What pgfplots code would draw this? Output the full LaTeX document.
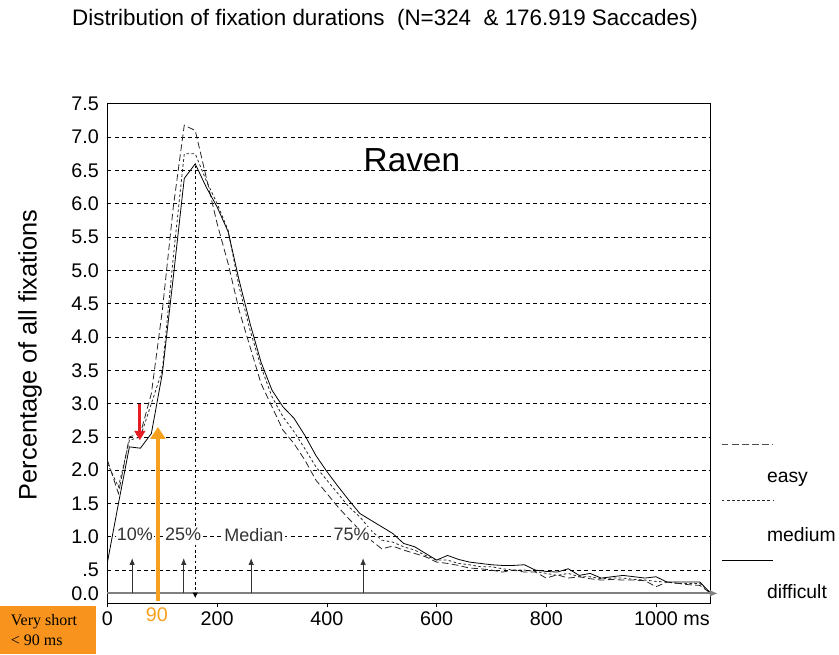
\documentclass[border=0pt]{standalone}
\usepackage{pgfplots}
\pgfplotsset{compat=1.18}
\usepackage{pgfplotstable}
\usepackage{fontspec}
\setmainfont{Liberation Sans}
\newfontfamily\seriffont{Liberation Serif}
\usetikzlibrary{arrows.meta}
\definecolor{orng}{RGB}{246,160,30}
\definecolor{boxorng}{RGB}{248,148,29}
\definecolor{basegray}{RGB}{128,128,128}
\definecolor{redarr}{RGB}{230,30,35}

\pgfplotstableread{
ms easy medium difficult
0 2.15 2.10 0.62
20 1.65 1.75 1.50
40 2.50 2.45 2.35
60 2.55 2.50 2.33
80 3.15 3.00 2.55
100 4.40 3.50 3.45
120 5.95 5.20 4.90
140 7.18 6.75 6.38
160 7.10 6.75 6.60
180 6.40 6.35 6.25
200 5.70 6.00 5.95
220 5.10 5.60 5.58
240 4.40 4.75 4.85
260 3.85 4.10 4.20
280 3.30 3.55 3.62
300 2.95 3.10 3.20
320 2.60 2.80 2.95
340 2.40 2.58 2.78
360 2.15 2.32 2.52
380 1.85 2.05 2.22
400 1.65 1.85 1.98
420 1.45 1.65 1.76
440 1.27 1.45 1.55
460 1.10 1.30 1.35
480 0.95 1.10 1.25
500 0.82 0.95 1.15
520 0.86 0.92 1.05
540 0.80 0.85 0.90
560 0.75 0.80 0.85
580 0.70 0.72 0.75
600 0.62 0.65 0.65
620 0.60 0.65 0.72
640 0.57 0.60 0.66
660 0.53 0.58 0.62
680 0.52 0.55 0.60
700 0.50 0.55 0.58
720 0.47 0.52 0.57
740 0.50 0.50 0.57
760 0.47 0.50 0.58
780 0.47 0.48 0.50
800 0.38 0.45 0.48
820 0.43 0.42 0.47
840 0.38 0.45 0.52
860 0.40 0.40 0.42
880 0.37 0.40 0.45
900 0.35 0.37 0.38
920 0.36 0.38 0.40
940 0.35 0.38 0.42
960 0.35 0.36 0.40
980 0.34 0.35 0.38
1000 0.25 0.33 0.40
1020 0.32 0.32 0.32
1040 0.30 0.30 0.32
1060 0.28 0.30 0.32
1080 0.27 0.30 0.32
1100 0.15 0.15 0.15
}\data

\begin{document}
\begin{tikzpicture}
\begin{axis}[
  scale only axis, width=452.5pt, height=374.6pt,
  xmin=0, xmax=1100, ymin=0, ymax=7.5,
  clip=false,
  axis line style={black, line width=0.6pt},
  xtick={0,200,400,600,800,1000},
  xticklabels={0,200,400,600,800,{1000\rlap{ ms}}},
  extra x ticks={90},
  extra x tick labels={\textcolor{orng}{90}},
  extra x tick style={major tick length=0pt, grid=none},
  ytick={0.5,1.0,1.5,2.0,2.5,3.0,3.5,4.0,4.5,5.0,5.5,6.0,6.5,7.0},
  yticklabels={.5,1.0,1.5,2.0,2.5,3.0,3.5,4.0,4.5,5.0,5.5,6.0,6.5,7.0},
  extra y ticks={0.15,7.5},
  extra y tick labels={0.0,7.5},
  extra y tick style={grid=none},
  ymajorgrids,
  grid style={black, line width=0.5pt, dash pattern=on 3pt off 2.5pt},
  tick label style={font=\fontsize{14.8}{16}\selectfont},
  /pgf/number format/assume math mode=true,
  tick align=outside,
  major tick length=3pt,
  xtick style={black, line width=0.5pt},
  ytick style={draw=none},
  xtick pos=bottom, ytick pos=left,
]
\addplot[black!85, line width=0.6pt, dash pattern=on 5pt off 2.5pt] table[x=ms, y=easy]{\data};
\addplot[black!85, line width=0.6pt, dash pattern=on 2pt off 1.8pt] table[x=ms, y=medium]{\data};
\addplot[black, line width=0.6pt] table[x=ms, y=difficult]{\data};

% baseline
\draw[basegray, line width=1.5pt, -{Latex[length=6pt,width=5pt]}] (axis cs:0,0.15) -- (axis cs:1113,0.15);
% median line
\draw[black, line width=0.5pt, dash pattern=on 2pt off 2pt, -{Latex[length=4pt,width=4pt]}] (axis cs:160,6.57) -- (axis cs:160,0.08);
% percentile arrows
\draw[black!80, line width=0.6pt, -{Latex[length=5pt,width=4pt]}] (axis cs:45,0.15) -- (axis cs:45,0.68);
\draw[black!80, line width=0.6pt, -{Latex[length=5pt,width=4pt]}] (axis cs:139,0.15) -- (axis cs:139,0.68);
\draw[black!80, line width=0.6pt, -{Latex[length=5pt,width=4pt]}] (axis cs:262,0.15) -- (axis cs:262,0.68);
\draw[black!80, line width=0.6pt, -{Latex[length=5pt,width=4pt]}] (axis cs:466,0.15) -- (axis cs:466,0.68);
\node[font=\fontsize{13.5}{15}\selectfont, fill=white, inner sep=1pt, text=black!80] at (axis cs:50,1.03) {10\%};
\node[font=\fontsize{13.5}{15}\selectfont, fill=white, inner sep=1pt, text=black!80] at (axis cs:138,1.03) {25\%};
\node[font=\fontsize{13.5}{15}\selectfont, fill=white, inner sep=1pt, text=black!80] at (axis cs:267,1.03) {Median};
\node[font=\fontsize{13.5}{15}\selectfont, fill=white, inner sep=1pt, text=black!80] at (axis cs:445,1.03) {75\%};
% red and orange arrows
\draw[redarr, line width=2.2pt, -{Triangle[length=7pt,width=8pt]}] (axis cs:59,3.0) -- (axis cs:59,2.45);
\draw[orng, line width=3.5pt, -{Triangle[length=9pt,width=11pt]}] (axis cs:92,0.04) -- (axis cs:92,2.65);
% Raven
\node[font=\fontsize{25}{28}\selectfont] at (axis cs:555,6.65) {Raven};
% title
\node[font=\fontsize{16.8}{19}\selectfont] at (axis cs:506,8.76) {Distribution of fixation durations\ \ (N=324\ \ \& 176.919 Saccades)};
% y label
\node[font=\fontsize{19}{22}\selectfont, rotate=90] at (axis cs:-141,3.73) {Percentage of all fixations};
% legend
\draw[black!70, line width=0.7pt, dash pattern=on 5pt off 2.5pt] (axis cs:1120,2.38) -- (axis cs:1213,2.38);
\draw[black!85, line width=0.6pt, dash pattern=on 2pt off 1.8pt] (axis cs:1120,1.55) -- (axis cs:1213,1.55);
\draw[black, line width=0.6pt] (axis cs:1120,0.65) -- (axis cs:1213,0.65);
\node[anchor=west, font=\fontsize{14.5}{16}\selectfont, inner sep=0pt] at (axis cs:1202,1.87) {easy};
\node[anchor=west, font=\fontsize{14.5}{16}\selectfont, inner sep=0pt] at (axis cs:1202,1.03) {medium};
\node[anchor=west, font=\fontsize{14.5}{16}\selectfont, inner sep=0pt] at (axis cs:1202,0.17) {difficult};
% orange box
\node[fill=boxorng, anchor=north west, minimum width=72pt, minimum height=36pt, inner sep=0pt] (vs) at (axis cs:-196,-0.04) {};
\node[anchor=west, align=left, inner sep=0pt, font=\seriffont\fontsize{12}{15}\selectfont] at ([xshift=8pt]vs.west) {Very short\\< 90 ms};
\end{axis}
\pgfresetboundingbox
\path ([shift={(-80.6pt,-38pt)}]current axis.south west) rectangle ([shift={(548.6pt,452.5pt)}]current axis.south west);
\end{tikzpicture}
\end{document}
